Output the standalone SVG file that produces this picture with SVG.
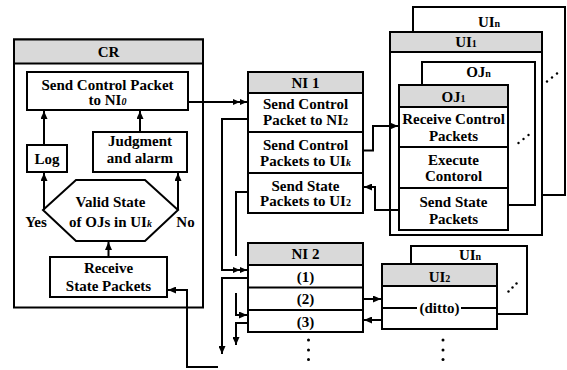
<svg xmlns="http://www.w3.org/2000/svg" width="567" height="370" viewBox="0 0 567 370" font-family="'Liberation Serif', 'Times New Roman', 'DejaVu Serif', serif">
<defs>
<style>
.box{fill:#fff;stroke:#000;stroke-width:2}
.hdr{fill:#d9d9d9;stroke:#000;stroke-width:2}
.ln{fill:none;stroke:#000;stroke-width:2}
.t{font-family:'Liberation Serif','Times New Roman','DejaVu Serif',serif;font-weight:bold;font-size:15px;text-anchor:middle;fill:#000}
.s{font-size:10px}
.i{font-style:italic}
.c{fill:none;stroke:#000;stroke-width:2}
.dot{fill:#000}
</style>
<marker id="a" markerUnits="userSpaceOnUse" markerWidth="8" markerHeight="7" refX="8" refY="3.5" orient="auto">
<path d="M0,0 L8,3.5 L0,7 z" fill="#000"/>
</marker>
<marker id="a2" markerUnits="userSpaceOnUse" markerWidth="14" markerHeight="6" refX="14" refY="3" orient="auto">
<path d="M0,0 L7,3 L0,6 z M7,0 L14,3 L7,6 z" fill="#000"/>
</marker>
</defs>
<rect width="567" height="370" fill="#fff"/>

<g id="CR">
<rect class="box" x="14" y="39.5" width="189" height="268"/>
<rect class="hdr" x="14" y="39.5" width="189" height="24"/>
<text class="t" x="108.5" y="57">CR</text>
</g>
<g id="sendCtrl">
<rect class="box" x="27" y="72" width="161" height="38"/>
<text class="t" x="107.5" y="90">Send Control Packet</text>
<text class="t" x="107.5" y="105">to NI<tspan class="s i">0</tspan></text>
</g>
<g id="log">
<rect class="box" x="27" y="145" width="40" height="27"/>
<text class="t" x="47" y="163.5">Log</text>
</g>
<g id="judge">
<rect class="box" x="93" y="132" width="94" height="40"/>
<text class="t" x="140" y="146">Judgment</text>
<text class="t" x="140" y="163">and alarm</text>
</g>
<g id="valid">
<polygon class="box" points="76,180 145,180 178,210 145,241 76,241 43,210"/>
<text class="t" x="110.5" y="207">Valid State</text>
<text class="t" x="110.5" y="227">of OJs in UI<tspan class="s i">k</tspan></text>
<text class="t" x="36" y="227">Yes</text>
<text class="t" x="185.5" y="227">No</text>
</g>
<g id="receive">
<rect class="box" x="50" y="257" width="117" height="40"/>
<text class="t" x="108.5" y="272.5">Receive</text>
<text class="t" x="108.5" y="291">State Packets</text>
</g>

<g id="NI1">
<rect class="box" x="248" y="72" width="115" height="141"/>
<rect class="hdr" x="248" y="72" width="115" height="21"/>
<line class="ln" x1="248" y1="132" x2="363" y2="132"/>
<line class="ln" x1="248" y1="173" x2="363" y2="173"/>
<text class="t" x="305.5" y="88">NI 1</text>
<text class="t" x="305.5" y="108.5">Send Control</text>
<text class="t" x="305.5" y="125">Packet to NI<tspan class="s">2</tspan></text>
<text class="t" x="305.5" y="149.5">Send Control</text>
<text class="t" x="305.5" y="165.5">Packets to UI<tspan class="s i">k</tspan></text>
<text class="t" x="305.5" y="190.5">Send State</text>
<text class="t" x="305.5" y="205.5">Packets to UI<tspan class="s">2</tspan></text>
</g>

<g id="NI2">
<rect class="box" x="248" y="243" width="115" height="89"/>
<rect class="hdr" x="248" y="243" width="115" height="22"/>
<line class="ln" x1="248" y1="287.5" x2="363" y2="287.5"/>
<line class="ln" x1="248" y1="310" x2="363" y2="310"/>
<text class="t" x="305.5" y="259">NI 2</text>
<text class="t" x="305.5" y="281.5">(1)</text>
<text class="t" x="305.5" y="304">(2)</text>
<text class="t" x="305.5" y="326.5">(3)</text>
<circle class="dot" cx="308.5" cy="340" r="1.5"/>
<circle class="dot" cx="308.5" cy="350" r="1.5"/>
<circle class="dot" cx="308.5" cy="359.5" r="1.5"/>
</g>

<g id="UIn">
<rect class="box" x="413" y="7" width="152" height="188"/>
<text class="t" x="489" y="27">UI<tspan class="s">n</tspan></text>
</g>
<g id="UI1">
<rect class="box" x="390" y="32" width="152" height="203"/>
<rect class="hdr" x="390" y="32" width="152" height="20"/>
<text class="t" x="466" y="47">UI<tspan class="s">1</tspan></text>
<circle class="dot" cx="547" cy="81.5" r="1.2"/>
<circle class="dot" cx="552" cy="77.5" r="1.2"/>
<circle class="dot" cx="557" cy="73.5" r="1.2"/>
</g>
<g id="OJn">
<rect class="box" x="422" y="62" width="113" height="143"/>
<text class="t" x="478.5" y="77">OJ<tspan class="s">n</tspan></text>
</g>
<g id="OJ1">
<rect class="box" x="399" y="85" width="109" height="145"/>
<rect class="hdr" x="399" y="85" width="109" height="22"/>
<line class="ln" x1="399" y1="147" x2="508" y2="147"/>
<line class="ln" x1="399" y1="188" x2="508" y2="188"/>
<text class="t" x="453.5" y="101.5">OJ<tspan class="s">1</tspan></text>
<text class="t" x="453.5" y="123.5">Receive Control</text>
<text class="t" x="453.5" y="140.5">Packets</text>
<text class="t" x="453.5" y="165">Execute</text>
<text class="t" x="453.5" y="180.5">Contorol</text>
<text class="t" x="453.5" y="207">Send State</text>
<text class="t" x="453.5" y="223.5">Packets</text>
<circle class="dot" cx="518.5" cy="143" r="1.2"/>
<circle class="dot" cx="523.5" cy="139" r="1.2"/>
<circle class="dot" cx="528.5" cy="135" r="1.2"/>
</g>

<g id="UIn2">
<rect class="box" x="411" y="246" width="116" height="68"/>
<text class="t" x="470" y="260">UI<tspan class="s">n</tspan></text>
<circle class="dot" cx="508.5" cy="291.5" r="1.2"/>
<circle class="dot" cx="512.5" cy="287.5" r="1.2"/>
<circle class="dot" cx="516.5" cy="283.5" r="1.2"/>
</g>
<g id="UI2">
<rect class="box" x="382" y="264" width="115" height="65"/>
<rect class="hdr" x="382" y="264" width="115" height="22"/>
<line class="ln" x1="382" y1="308" x2="497" y2="308"/>
<rect x="417" y="300" width="44" height="16" fill="#fff"/>
<text class="t" x="439.5" y="281.5">UI<tspan class="s">2</tspan></text>
<text class="t" x="439.5" y="313">(ditto)</text>
<circle class="dot" cx="443" cy="340" r="1.5"/>
<circle class="dot" cx="443" cy="350" r="1.5"/>
<circle class="dot" cx="443" cy="359.5" r="1.5"/>
</g>

<g id="connectors">
<path class="c" d="M44,145 L44,111" marker-end="url(#a)"/>
<path class="c" d="M140,132 L140,111" marker-end="url(#a)"/>
<path class="c" d="M44,210 L44,173" marker-end="url(#a)"/>
<path class="c" d="M178,210 L178,173" marker-end="url(#a)"/>
<path class="c" d="M108.5,257 L108.5,242" marker-end="url(#a)"/>
<path class="c" d="M188,102 L247,102" marker-end="url(#a2)"/>
<path class="c" d="M218,367 L187,367 L187,290 L168,290" marker-end="url(#a)"/>
<path class="c" d="M248,119 L222,119 L222,270 L247,270" marker-end="url(#a2)"/>
<path class="c" d="M248,278 L222,278 L222,354" marker-end="url(#a)"/>
<path class="c" d="M248,192 L236,192 L236,256"/>
<path class="c" d="M236,293 L236,315 L247,315" marker-end="url(#a)"/>
<path class="c" d="M248,323 L236,323 L236,345" marker-end="url(#a)"/>
<path class="c" d="M363,299 L381,299" marker-end="url(#a)"/>
<path class="c" d="M382,320 L364,320" marker-end="url(#a)"/>
<path class="c" d="M363,150.5 L373,150.5 L373,126 L398,126" marker-end="url(#a)"/>
<path class="c" d="M399,210 L375,210 L375,187 L364,187" marker-end="url(#a)" stroke-width="1.5"/>
</g>
</svg>
